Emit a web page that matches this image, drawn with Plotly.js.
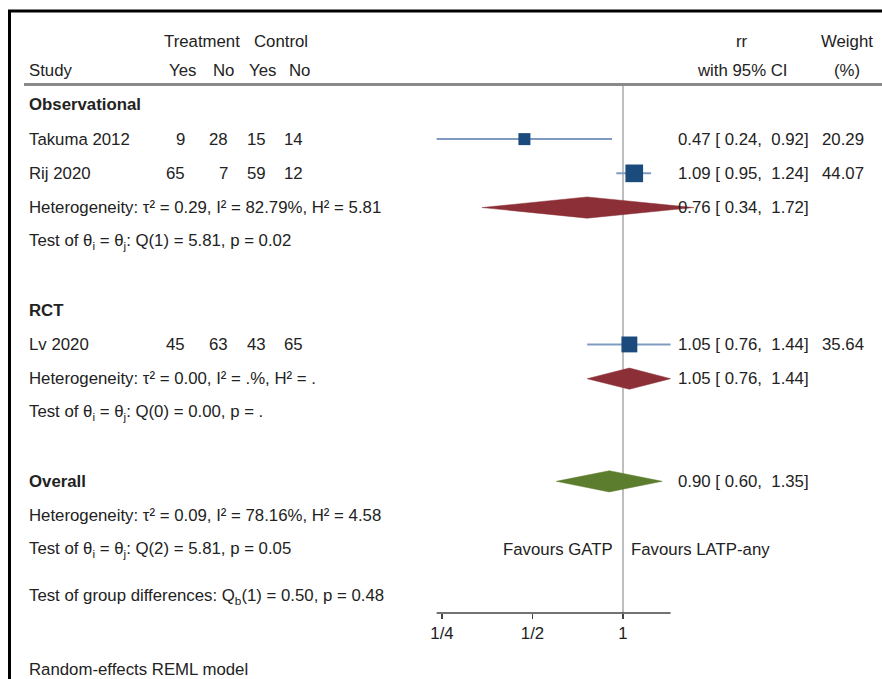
<!DOCTYPE html>
<html>
<head>
<meta charset="utf-8">
<script src="https://cdn.plot.ly/plotly-3.0.1.min.js"></script>
<style>html,body{margin:0;padding:0;background:#fff;}#chart{width:882px;height:679px;}</style>
</head>
<body>
<div id="chart"></div>
<script>
// ---- data ----
const studies   = ['Takuma 2012', 'Rij 2020', 'Lv 2020'];
const studyGroup = [0, 0, 1];
const treatYes  = [9, 65, 45];
const treatNo   = [28, 7, 63];
const ctrlYes   = [15, 59, 43];
const ctrlNo    = [14, 12, 65];
const rr        = [0.47, 1.09, 1.05];
const ciLo      = [0.24, 0.95, 0.76];
const ciHi      = [0.92, 1.24, 1.44];
const weight    = [20.29, 44.07, 35.64];

const groups    = ['Observational', 'RCT'];
const poolRR    = [0.76, 1.05, 0.90];   // Observational, RCT, Overall
const poolLo    = [0.34, 0.76, 0.60];
const poolHi    = [1.72, 1.44, 1.35];
const hetText   = ['Heterogeneity: τ² = 0.29, I² = 82.79%, H² = 5.81',
                   'Heterogeneity: τ² = 0.00, I² = .%, H² = .',
                   'Heterogeneity: τ² = 0.09, I² = 78.16%, H² = 4.58'];
const testText  = ['Q(1) = 5.81, p = 0.02', 'Q(0) = 0.00, p = .', 'Q(2) = 5.81, p = 0.05'];
const groupDiff = 'Q<sub>b</sub>(1) = 0.50, p = 0.48';
const tickVals  = [0.25, 0.5, 1];
const tickText  = ['1/4', '1/2', '1'];
const favLeft   = 'Favours GATP';
const favRight  = 'Favours LATP-any';
const modelNote = 'Random-effects REML model';

// ---- layout helpers ----
const W = 882, H = 679;
const FONT = 'Liberation Sans, Arial, Helvetica, sans-serif';
const FS = 16.8;
const TXT = '#222';
const px = x => x / W;
const py = y => 1 - y / H;
const NB = '\u00a0';
const f2 = v => v.toFixed(2);
const fmtCI = (e, l, h) => `${f2(e)} [${NB}${f2(l)},${NB}${NB}${f2(h)}]`;

const annotations = [];
function txt(text, xpix, yval, anchor, yref, extra) {
  annotations.push(Object.assign({
    text: text, x: px(xpix), xref: 'paper', y: yval, yref: yref || 'y',
    xanchor: anchor || 'left', yanchor: 'middle', showarrow: false,
    font: {family: FONT, size: FS, color: TXT}
  }, extra || {}));
}

// ---- build rows ----
let r = 0;
const sRow = [], dRow = [];
groups.forEach((g, gi) => {
  txt('<b>' + g + '</b>', 27, r); r++;
  studies.forEach((s, i) => { if (studyGroup[i] === gi) { sRow[i] = r; r++; } });
  dRow[gi] = r; txt(hetText[gi], 27, r); r++;
  txt('Test of θ<sub>i</sub> = θ<sub>j</sub>: ' + testText[gi], 27, r); r++;
  r++;
});
txt('<b>Overall</b>', 27, r); dRow[2] = r; r++;
txt(hetText[2], 27, r); r++;
const testRow = r;
txt('Test of θ<sub>i</sub> = θ<sub>j</sub>: ' + testText[2], 27, r); r++;
txt('Test of group differences: ' + groupDiff, 27, r + 0.38);
txt(modelNote, 27, r + 2.5);

studies.forEach((s, i) => {
  txt(s, 27, sRow[i]);
  txt(String(treatYes[i]), 187, sRow[i], 'right');
  txt(String(treatNo[i]), 230, sRow[i], 'right');
  txt(String(ctrlYes[i]), 268, sRow[i], 'right');
  txt(String(ctrlNo[i]), 305, sRow[i], 'right');
  txt(fmtCI(rr[i], ciLo[i], ciHi[i]), 676, sRow[i]);
  txt(f2(weight[i]), 866, sRow[i], 'right');
});
poolRR.forEach((e, k) => txt(fmtCI(e, poolLo[k], poolHi[k]), 676, dRow[k]));

// headers
txt('Treatment', 162, py(41), 'left', 'paper');
txt('Control', 252, py(41), 'left', 'paper');
txt('Study', 27, py(71), 'left', 'paper');
txt('Yes', 167, py(71), 'left', 'paper');
txt('No', 211, py(71), 'left', 'paper');
txt('Yes', 247, py(71), 'left', 'paper');
txt('No', 287, py(71), 'left', 'paper');
txt('rr', 742, py(41), 'center', 'paper');
txt('with 95% CI', 742, py(71), 'center', 'paper');
txt('Weight', 847, py(41), 'center', 'paper');
txt('(%)', 847, py(71), 'center', 'paper');
txt(favLeft, 615, testRow, 'right');
txt(favRight, 629, testRow, 'left');

// ---- traces ----
const traces = [];
// CI lines
const lx = [], ly = [];
studies.forEach((s, i) => { lx.push(ciLo[i], ciHi[i], null); ly.push(sRow[i], sRow[i], null); });
traces.push({x: lx, y: ly, mode: 'lines', type: 'scatter', line: {color: '#7f9cc0', width: 2}, hoverinfo: 'skip'});
// squares
traces.push({x: rr, y: sRow, mode: 'markers', type: 'scatter', opacity: 1,
  marker: {symbol: 'square', color: '#1b4b7d', opacity: 1,
           size: weight.map(w => 2.66 * Math.sqrt(w)), line: {width: 0}}});
// diamonds
const dh = 0.31;
const dColors = ['#8c2f37', '#8c2f37', '#5c7d2e'];
poolRR.forEach((e, k) => {
  traces.push({x: [poolLo[k], e, poolHi[k], e, poolLo[k]],
               y: [dRow[k], dRow[k] - dh, dRow[k], dRow[k] + dh, dRow[k]],
               mode: 'lines', type: 'scatter', fill: 'toself',
               fillcolor: dColors[k], line: {color: dColors[k], width: 0.5}, hoverinfo: 'skip'});
});

// ---- axes ----
const PX1 = 623, PPL2 = 90.5; // pixel of rr=1 and pixels per doubling
const l10 = p => ((p - PX1) / PPL2) * Math.log10(2);
const RY0 = 104.9, RPX = 34.22; // pixel of row 0, pixels per row
const AXIS_Y = 613;
const axMin = Math.min(...ciLo), axMax = Math.max(...ciHi);

const layout = {
  width: W, height: H, margin: {l: 0, r: 0, t: 0, b: 0},
  paper_bgcolor: '#fff', plot_bgcolor: 'rgba(0,0,0,0)', showlegend: false,
  xaxis: {type: 'log', range: [l10(0), l10(W)], domain: [0, 1], anchor: 'free', position: py(AXIS_Y),
          tickvals: tickVals, ticktext: tickText, ticks: 'outside', ticklen: 5, tickwidth: 1.5, tickcolor: '#444',
          showline: false, showgrid: false, zeroline: false,
          tickfont: {family: FONT, size: FS, color: TXT}, fixedrange: true},
  yaxis: {range: [(H - RY0) / RPX, -RY0 / RPX], domain: [0, 1], visible: false, fixedrange: true},
  annotations: annotations,
  shapes: [
    // frame
    {type: 'line', xref: 'paper', yref: 'paper', x0: px(8), x1: 1, y0: py(11), y1: py(11), line: {color: '#000', width: 3}},
    {type: 'line', xref: 'paper', yref: 'paper', x0: px(9.5), x1: px(9.5), y0: py(10), y1: 0, line: {color: '#000', width: 3}},
    // header rule
    {type: 'line', xref: 'paper', yref: 'paper', x0: px(24), x1: 1, y0: py(84.5), y1: py(84.5), line: {color: '#8a8a8a', width: 3}},
    // no-effect line
    {type: 'line', xref: 'x', yref: 'paper', x0: 1, x1: 1, y0: py(86), y1: py(AXIS_Y), line: {color: '#a8a8a8', width: 1.5}, layer: 'below'},
    // axis line
    {type: 'line', xref: 'x', yref: 'paper', x0: axMin, x1: axMax, y0: py(AXIS_Y), y1: py(AXIS_Y), line: {color: '#444', width: 1.5}}
  ]
};

Plotly.newPlot('chart', traces, layout, {staticPlot: true, displayModeBar: false});
</script>
</body>
</html>
